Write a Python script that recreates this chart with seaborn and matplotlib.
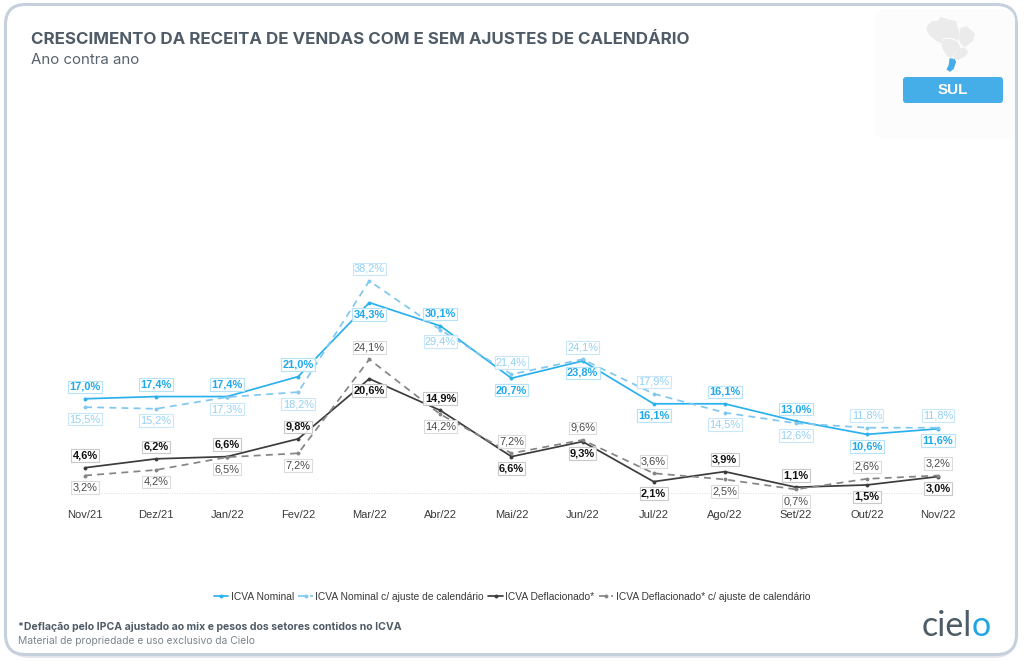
import matplotlib
matplotlib.use("Agg")
import matplotlib.pyplot as plt
from matplotlib.patches import FancyBboxPatch, Polygon
import pandas as pd
import seaborn as sns

meses = ["Nov/21", "Dez/21", "Jan/22", "Fev/22", "Mar/22", "Abr/22", "Mai/22",
         "Jun/22", "Jul/22", "Ago/22", "Set/22", "Out/22", "Nov/22"]
nominal = [17.0, 17.4, 17.4, 21.0, 34.3, 30.1, 20.7, 23.8, 16.1, 16.1, 13.0, 10.6, 11.6]
nominal_aj = [15.5, 15.2, 17.3, 18.2, 38.2, 29.4, 21.4, 24.1, 17.9, 14.5, 12.6, 11.8, 11.8]
deflac = [4.6, 6.2, 6.6, 9.8, 20.6, 14.9, 6.6, 9.3, 2.1, 3.9, 1.1, 1.5, 3.0]
deflac_aj = [3.2, 4.2, 6.5, 7.2, 24.1, 14.2, 7.2, 9.6, 3.6, 2.5, 0.7, 2.6, 3.2]

# +1 label above the point, -1 label below
lado_nominal = [1, 1, 1, 1, -1, 1, -1, -1, -1, 1, 1, -1, -1]
lado_nominal_aj = [-1, -1, -1, -1, 1, -1, 1, 1, 1, -1, -1, 1, 1]
lado_deflac = [1, 1, 1, 1, -1, 1, -1, -1, -1, 1, 1, -1, -1]
lado_deflac_aj = [-1, -1, -1, -1, 1, -1, 1, 1, 1, -1, -1, 1, 1]

nomes = ["ICVA Nominal", "ICVA Nominal c/ ajuste de calendário",
         "ICVA Deflacionado*", "ICVA Deflacionado* c/ ajuste de calendário"]
series = [nominal, nominal_aj, deflac, deflac_aj]
lados = [lado_nominal, lado_nominal_aj, lado_deflac, lado_deflac_aj]
cores = ["#2bb0ee", "#80c8f0", "#3c3c3c", "#858585"]
cores_txt = ["#1fa9ea", "#93d0f3", "#111111", "#4a4a4a"]
cores_borda = ["#aee0f8", "#c4e5f8", "#c4c4c4", "#d8d8d8"]
pesos = ["bold", "normal", "bold", "normal"]

W, H = 1024, 661
sns.set_theme(style="white")
plt.rcParams["font.family"] = ["Liberation Sans", "DejaVu Sans"]
fig = plt.figure(figsize=(W / 100, H / 100), dpi=100, facecolor="white")

# overlay in pixel coordinates for the card and decoration
bg = fig.add_axes([0, 0, 1, 1], zorder=0)
bg.set_xlim(0, W)
bg.set_ylim(H, 0)
bg.axis("off")
bg.add_patch(FancyBboxPatch((9, 9), 1006, 649, boxstyle="round,pad=0,rounding_size=20",
                            fc="#e4e8ec", ec="none"))
bg.add_patch(FancyBboxPatch((5.5, 4.5), 1011, 650, boxstyle="round,pad=0,rounding_size=20",
                            fc="white", ec="#c5d0dc", lw=2.2))
bg.add_patch(FancyBboxPatch((874, 9), 141, 130, boxstyle="round,pad=0,rounding_size=12",
                            fc="#fcfcfc", ec="none"))


def poly(pts, color):
    bg.add_patch(Polygon([(915 + x / 3, 12 + y / 3) for x, y in pts], closed=True,
                         fc=color, ec=color, lw=0.6, joinstyle="round"))


poly([(38, 42), (50, 30), (68, 28), (78, 16), (100, 24), (122, 28), (128, 50), (132, 62),
      (128, 84), (108, 76), (86, 78), (76, 92), (60, 82), (45, 70), (36, 55)], "#ebebeb")
poly([(135, 50), (155, 44), (179, 66), (172, 86), (150, 104), (138, 94), (132, 78), (136, 62)], "#ebebeb")
poly([(80, 92), (90, 82), (108, 82), (126, 90), (134, 104), (118, 122), (110, 136), (98, 132), (86, 114)], "#ebebeb")
poly([(118, 130), (132, 110), (148, 108), (158, 120), (150, 132), (130, 142), (118, 140)], "#ebebeb")
poly([(105, 140), (118, 142), (122, 150), (115, 170), (105, 178), (96, 172), (102, 160)], "#45ade8")
bg.add_patch(FancyBboxPatch((903, 77), 100, 26, boxstyle="round,pad=0,rounding_size=3",
                            fc="#45ade8", ec="none"))
bg.text(953, 90.5, "SUL", color="white", fontsize=11, fontweight="bold", ha="center", va="center")

bg.text(31, 39, "CRESCIMENTO DA RECEITA DE VENDAS COM E SEM AJUSTES DE CALENDÁRIO",
        family="Inter", fontweight="bold", fontsize=12.2, color="#4f5b66", va="center")
bg.text(31, 60, "Ano contra ano", family="Inter", fontsize=10.8, color="#59636d", va="center")
bg.text(18, 627, "*Deflação pelo IPCA ajustado ao mix e pesos dos setores contidos no ICVA",
        family="Inter", fontweight="bold", fontsize=7.55, color="#4f5b66", va="center")
bg.text(18, 641, "Material de propriedade e uso exclusivo da Cielo",
        family="Inter", fontsize=7.4, color="#7b848c", va="center")
bg.text(922, 636, "ciel", family="Lato", fontsize=24.5, color="#4d5c66", va="baseline")
bg.text(972, 636, "o", family="Lato", fontsize=24.5, color="#22a5e0", va="baseline")

# chart axes: categories are 71.08 px apart, 5.56 px per percentage point
x0, step, y0, ppu = 85.0, 71.08, 493.3, 5.56
left, right = x0 - 0.3 * step, x0 + 12.3 * step
top = 250.0
ax = fig.add_axes([left / W, 1 - y0 / H, (right - left) / W, (y0 - top) / H], zorder=1)
ax.patch.set_alpha(0)

df = pd.concat([pd.DataFrame({"idx": range(len(meses)), "valor": v, "serie": n})
                for v, n in zip(series, nomes)], ignore_index=True)
sns.lineplot(data=df, x="idx", y="valor", hue="serie", style="serie", hue_order=nomes,
             style_order=nomes, palette=dict(zip(nomes, cores)),
             dashes={nomes[0]: "", nomes[1]: (4, 3), nomes[2]: "", nomes[3]: (4, 3)},
             markers={n: "o" for n in nomes}, markersize=2.8, markeredgewidth=0,
             linewidth=1.25, ax=ax, legend="full", zorder=2)
ax.set_xlim(-0.3, 12.3)
ax.set_ylim(0, (y0 - top) / ppu)
ax.set_xticks(range(len(meses)), meses)
ax.set_yticks([])
ax.set_xlabel("")
ax.set_ylabel("")
ax.tick_params(axis="x", length=0, pad=12, labelsize=8, labelcolor="#3a3a3a")
for s in ["top", "left", "right", "bottom"]:
    ax.spines[s].set_visible(False)
ax.hlines(0, -0.18, 12.18, color="#dcdcdc", lw=0.7, linestyles=(0, (1, 1.5)), clip_on=False, zorder=1)

for vals, lado, ct, cb, pw in zip(series, lados, cores_txt, cores_borda, pesos):
    for i, (v, s) in enumerate(zip(vals, lado)):
        ax.annotate(f"{v:.1f}%".replace(".", ","), (i, v), xytext=(0, s * 8.6),
                    textcoords="offset points", ha="center", va="center", fontsize=7.9,
                    fontweight=pw, color=ct, zorder=5, annotation_clip=False,
                    bbox=dict(boxstyle="square,pad=0.12", fc="white", ec=cb, lw=0.8, alpha=0.9))

h, l = ax.get_legend_handles_labels()
ax.legend(h, l, loc="center", bbox_to_anchor=((512 - left) / (right - left), (y0 - 596.5) / (y0 - top)),
          ncol=4, frameon=False, fontsize=7.35, labelcolor="#3a3a3a", handlelength=1.4,
          handletextpad=0.25, columnspacing=0.45, borderpad=0)

fig.savefig("out.png", dpi=100, facecolor="white")
